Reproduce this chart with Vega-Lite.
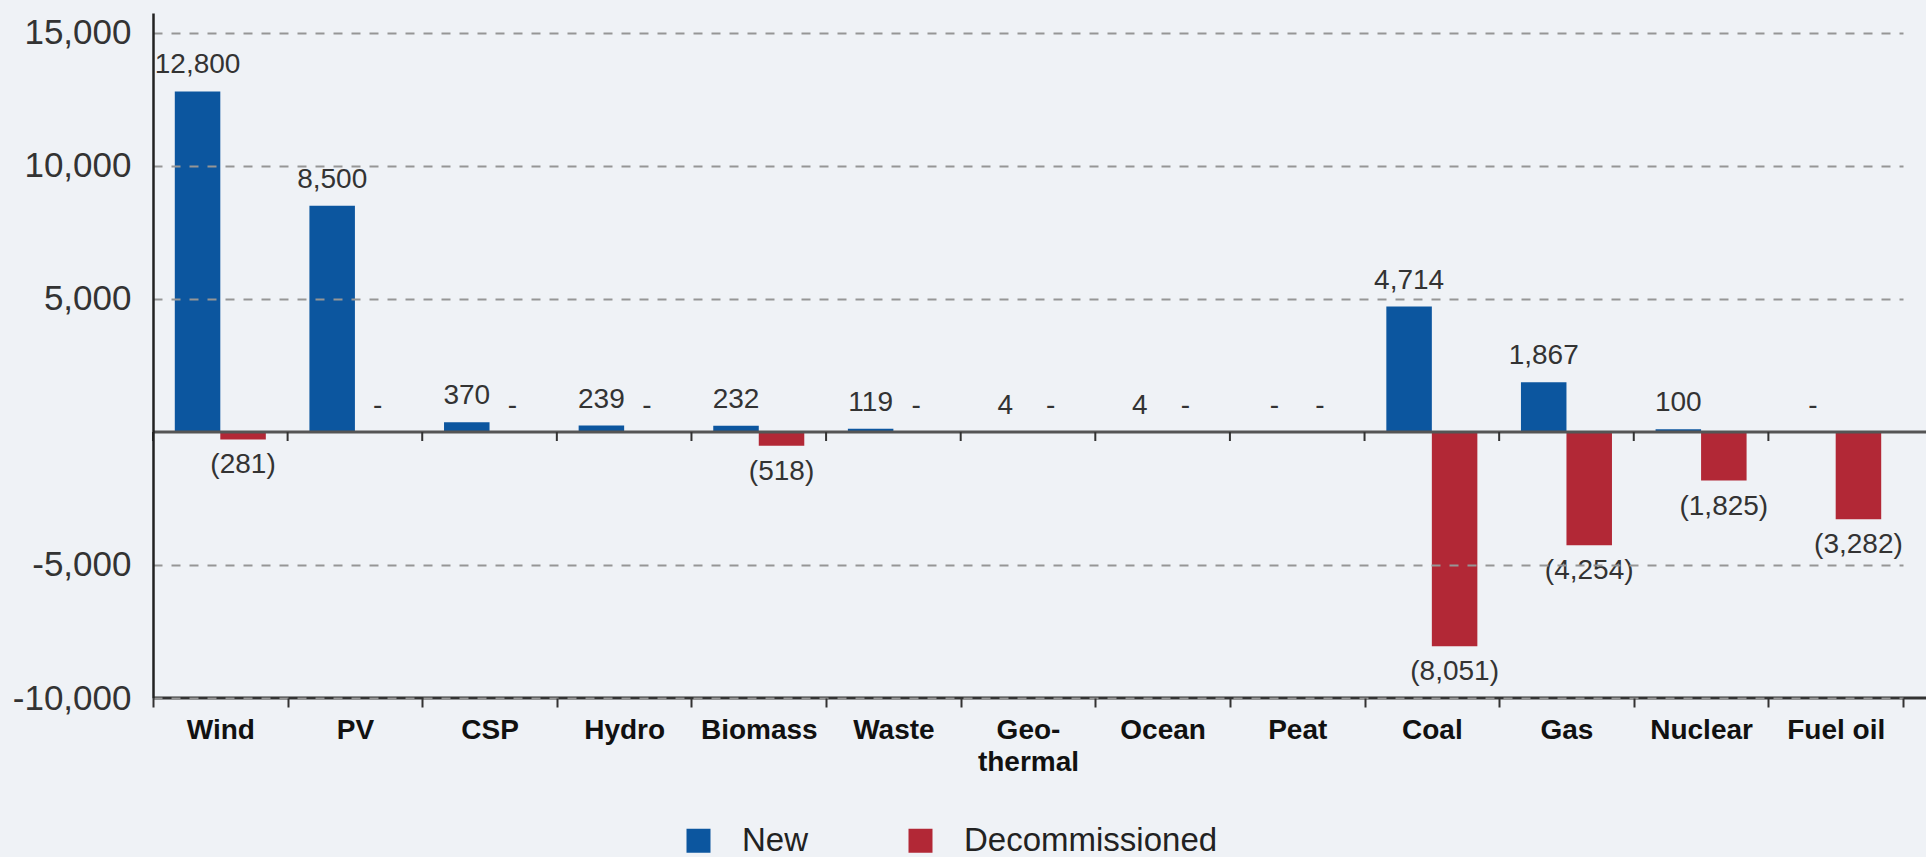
{
  "$schema": "https://vega.github.io/schema/vega-lite/v6.json",
  "autosize": {"type": "none"},
  "padding": {"left": 153, "top": 13, "right": 0, "bottom": 159},
  "width": 1773,
  "height": 685,
  "background": "#eff2f6",
  "config": {
    "view": {"stroke": null},
    "font": "Liberation Sans"
  },
  "data": {
    "values": [
      {"source": "Wind", "type": "New", "value": 12800, "label": "12,800"},
      {"source": "Wind", "type": "Decommissioned", "value": -281, "label": "(281)"},
      {"source": "PV", "type": "New", "value": 8500, "label": "8,500"},
      {"source": "PV", "type": "Decommissioned", "value": 0, "label": "-"},
      {"source": "CSP", "type": "New", "value": 370, "label": "370"},
      {"source": "CSP", "type": "Decommissioned", "value": 0, "label": "-"},
      {"source": "Hydro", "type": "New", "value": 239, "label": "239"},
      {"source": "Hydro", "type": "Decommissioned", "value": 0, "label": "-"},
      {"source": "Biomass", "type": "New", "value": 232, "label": "232"},
      {"source": "Biomass", "type": "Decommissioned", "value": -518, "label": "(518)"},
      {"source": "Waste", "type": "New", "value": 119, "label": "119"},
      {"source": "Waste", "type": "Decommissioned", "value": 0, "label": "-"},
      {"source": "Geo-thermal", "type": "New", "value": 4, "label": "4"},
      {"source": "Geo-thermal", "type": "Decommissioned", "value": 0, "label": "-"},
      {"source": "Ocean", "type": "New", "value": 4, "label": "4"},
      {"source": "Ocean", "type": "Decommissioned", "value": 0, "label": "-"},
      {"source": "Peat", "type": "New", "value": 0, "label": "-"},
      {"source": "Peat", "type": "Decommissioned", "value": 0, "label": "-"},
      {"source": "Coal", "type": "New", "value": 4714, "label": "4,714"},
      {"source": "Coal", "type": "Decommissioned", "value": -8051, "label": "(8,051)"},
      {"source": "Gas", "type": "New", "value": 1867, "label": "1,867"},
      {"source": "Gas", "type": "Decommissioned", "value": -4254, "label": "(4,254)"},
      {"source": "Nuclear", "type": "New", "value": 100, "label": "100"},
      {"source": "Nuclear", "type": "Decommissioned", "value": -1825, "label": "(1,825)"},
      {"source": "Fuel oil", "type": "New", "value": 0, "label": "-"},
      {"source": "Fuel oil", "type": "Decommissioned", "value": -3282, "label": "(3,282)"}
    ]
  },
  "encoding": {
    "x": {
      "field": "source",
      "type": "nominal",
      "sort": null,
      "scale": {"range": [0, 1750], "paddingInner": 0, "paddingOuter": 0}
    },
    "xOffset": {
      "field": "type",
      "type": "nominal",
      "sort": ["New", "Decommissioned"],
      "scale": {"paddingInner": 0, "paddingOuter": 0.479}
    },
    "y": {
      "field": "value",
      "type": "quantitative",
      "scale": {"domain": [-10000, 15750], "nice": false, "zero": false}
    }
  },
  "layer": [
    {
      "mark": {"type": "bar"},
      "encoding": {
        "x": {
          "field": "source", "type": "nominal", "sort": null,
          "axis": {
            "orient": "bottom",
            "title": null,
            "tickBand": "extent",
            "domain": false,
            "ticks": true,
            "tickSize": 9,
            "tickWidth": 2,
            "tickColor": "#333333",
            "labelAngle": 0,
            "labelFontSize": 28,
            "labelFontWeight": "bold",
            "labelColor": "#111111",
            "labelPadding": 9,
            "labelLineHeight": 32,
            "labelExpr": "datum.label == 'Geo-thermal' ? ['Geo-', 'thermal'] : datum.label",
            "grid": false,
            "zindex": 2
          }
        },
        "y": {
          "field": "value", "type": "quantitative",
          "axis": {
            "title": null,
            "values": [-10000, -5000, 5000, 10000, 15000],
            "labelExpr": "datum.value < 0 ? '-' + format(-datum.value, ',') : format(datum.value, ',')",
            "labelFontSize": 35,
            "labelColor": "#333333",
            "labelPadding": 22,
            "ticks": false,
            "domainColor": "#222222",
            "domainWidth": 2.5,
            "grid": true,
            "gridColor": "#969696",
            "gridWidth": 2,
            "gridDash": [9, 9],
            "zindex": 1
          }
        },
        "color": {
          "field": "type",
          "type": "nominal",
          "sort": ["New", "Decommissioned"],
          "scale": {"domain": ["New", "Decommissioned"], "range": ["#0c569f", "#b22836"]},
          "legend": {
            "title": null,
            "orient": "none",
            "direction": "horizontal",
            "legendX": 529,
            "legendY": 811,
            "symbolType": "square",
            "symbolSize": 576,
            "symbolStrokeWidth": 0,
            "labelFontSize": 33,
            "labelColor": "#222222",
            "labelOffset": 27,
            "labelLimit": 0,
            "columnPadding": 95,
            "padding": 0
          }
        }
      }
    },
    {
      "transform": [{"filter": "datum.value >= 0"}],
      "mark": {"type": "text", "dy": -26, "baseline": "middle", "fontSize": 28, "color": "#333333"},
      "encoding": {
        "text": {"field": "label"}
      }
    },
    {
      "transform": [{"filter": "datum.value < 0"}],
      "mark": {"type": "text", "dy": 26, "baseline": "middle", "fontSize": 28, "color": "#333333"},
      "encoding": {
        "text": {"field": "label"}
      }
    },
    {
      "data": {"values": [{"level": 0}]},
      "mark": {"type": "rule", "color": "#555555", "strokeWidth": 3},
      "encoding": {
        "x": null,
        "xOffset": null,
        "y": {"field": "level", "type": "quantitative"}
      }
    },
    {
      "transform": [{"filter": "datum.type == 'New'"}],
      "mark": {"type": "rule", "color": "#333333", "strokeWidth": 2},
      "encoding": {
        "x": {"field": "source", "type": "nominal", "sort": null, "bandPosition": 0},
        "xOffset": null,
        "y": {"datum": 0},
        "y2": {"datum": -340}
      }
    },
    {
      "data": {"values": [{"level": -10000}]},
      "mark": {"type": "rule", "color": "#333333", "strokeWidth": 3},
      "encoding": {
        "x": null,
        "xOffset": null,
        "y": {"field": "level", "type": "quantitative"}
      }
    }
  ]
}
